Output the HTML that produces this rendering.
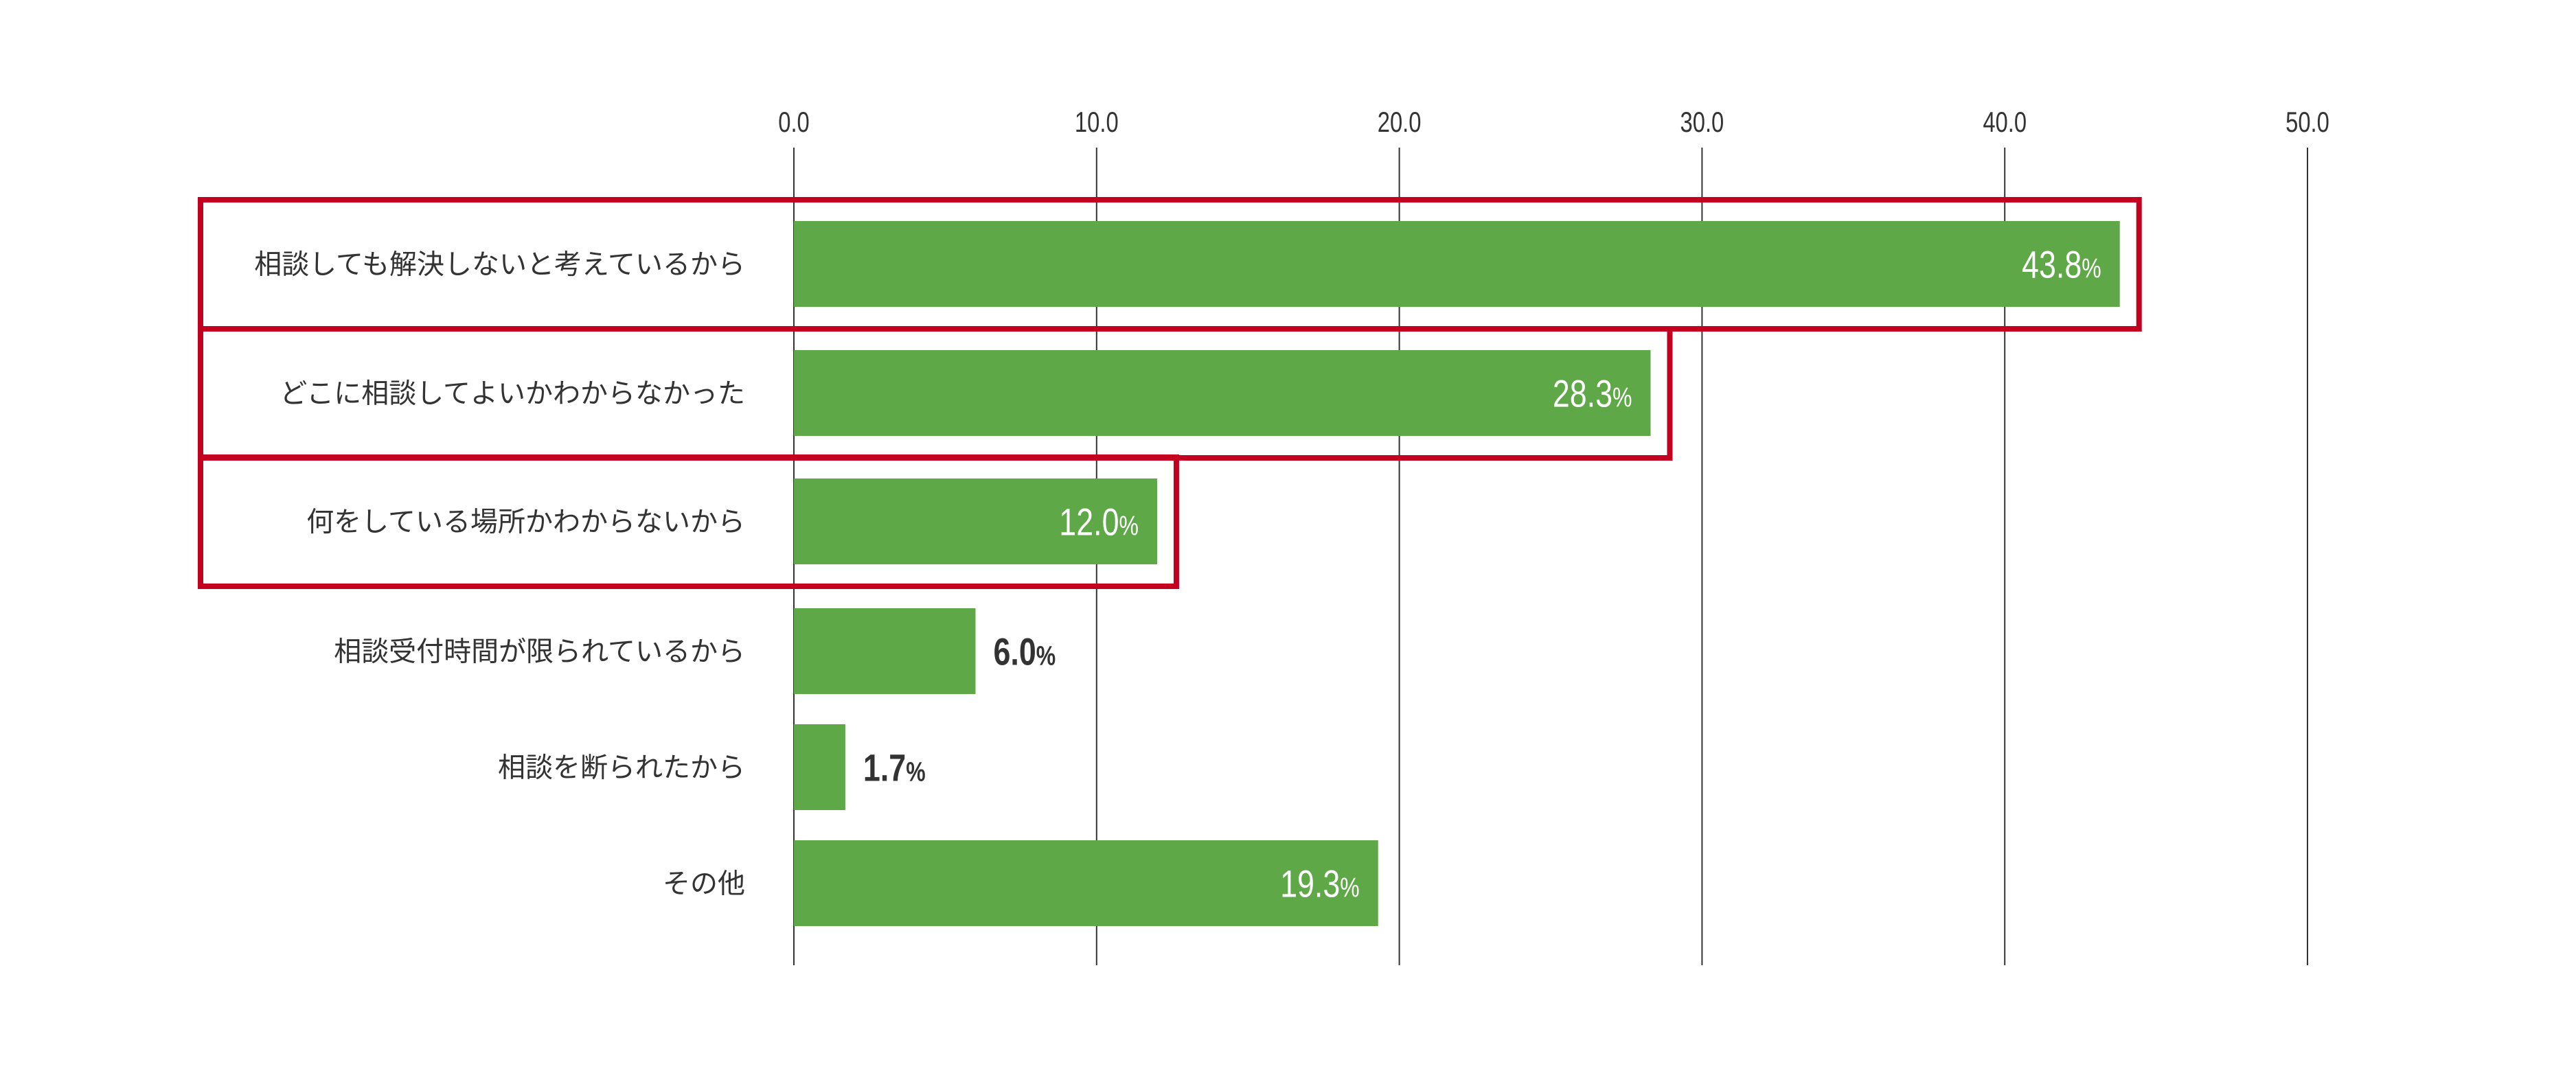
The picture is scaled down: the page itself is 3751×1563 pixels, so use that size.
<!DOCTYPE html>
<html><head><meta charset="utf-8"><style>
html,body{margin:0;padding:0;background:#fff;}
svg{display:block;}
text{font-family:"Liberation Sans","Noto Sans CJK JP",sans-serif;}
</style></head><body>
<svg id="chart" width="3751" height="1563" viewBox="0 0 3751 1563" xmlns="http://www.w3.org/2000/svg">
<g id="grid"></g>
<g id="ticks"></g>
<g id="bars"></g>
<g id="boxes"></g>
<g id="cats"></g>
<g id="vals"></g>
</svg>
<script>
const categories = ["相談しても解決しないと考えているから","どこに相談してよいかわからなかった","何をしている場所かわからないから","相談受付時間が限られているから","相談を断られたから","その他"];
const values = [43.8, 28.3, 12.0, 6.0, 1.7, 19.3];
const tickValues = [0, 10, 20, 30, 40, 50];
const tickLabels = ["0.0","10.0","20.0","30.0","40.0","50.0"];
const highlighted = [true, true, true, false, false, false];

const NS = "http://www.w3.org/2000/svg";
const x = v => 1156 + v * 44.08;
const barTops = [322, 510, 697, 886, 1055, 1224];
const barH = 125;
function mk(tag, attrs, parent){const e=document.createElementNS(NS,tag);for(const k in attrs)e.setAttribute(k,attrs[k]);parent.appendChild(e);return e;}
const grid=document.getElementById('grid'),ticks=document.getElementById('ticks'),bars=document.getElementById('bars'),boxes=document.getElementById('boxes'),cats=document.getElementById('cats'),vals=document.getElementById('vals');

tickValues.forEach((t,i)=>{
  const l=mk('line',{x1:x(t),x2:x(t),y1:215,y2:1406,stroke:'#333',"stroke-width":2},grid);
  
  
  const g=mk('g',{transform:`translate(${x(t)},192) scale(0.78,1)`},ticks);
  const tx=mk('text',{x:0,y:0,"text-anchor":"middle","font-size":42,fill:'#333'},g);
  
  
  tx.textContent=tickLabels[i];
});

values.forEach((v,i)=>{
  const top=barTops[i], cy=top+barH/2;
  const r=mk('rect',{x:x(0),y:top,width:x(v)-x(0),height:barH,fill:'#5fa848'},bars);
  
  
  const c=mk('text',{x:1085,y:cy+14,"text-anchor":"end","font-size":40,fill:'#333'},cats);
  
  
  c.textContent=categories[i];
  const inside = v >= 10;
  const lx = inside ? x(v)-27 : x(v)+26;
  const g=mk('g',{transform:`translate(${lx},${cy+20}) scale(0.8,1)`},vals);
  const t=mk('text',{x:0,y:0,"text-anchor":inside?"end":"start","font-size":56,fill:inside?'#fff':'#333',"font-weight":inside?"normal":"bold"},g);
  
  
  t.textContent=v.toFixed(1);
  const p=mk('tspan',{"font-size":40},t);
  p.textContent='%';
  if(highlighted[i]){
    const b=mk('rect',{x:292,y:top-31,width:x(v)+32-4-292,height:188,fill:'none',stroke:'#c3001f',"stroke-width":8},boxes);
    
    
  }
});
</script>
</body></html>
